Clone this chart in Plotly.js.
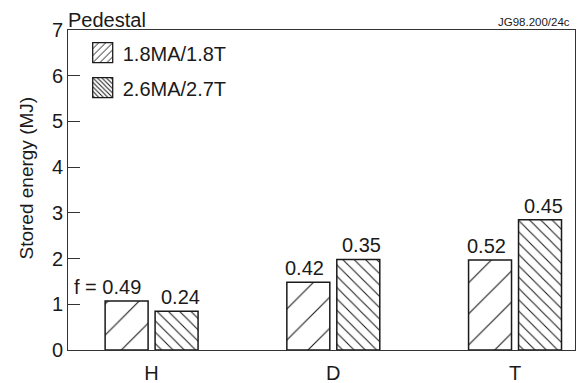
<!DOCTYPE html>
<html>
<head>
<meta charset="utf-8">
<script src="https://cdn.plot.ly/plotly-3.0.1.min.js"></script>
<style>html,body{margin:0;padding:0;background:#fff;}#chart{width:579px;height:383px;}</style>
</head>
<body>
<div id="chart"></div>
<script>
// Data
var categories = ['H', 'D', 'T'];
var seriesNames = ['1.8MA/1.8T', '2.6MA/2.7T'];
var energyLow = [1.07, 1.48, 1.97];   // 1.8MA/1.8T
var energyHigh = [0.85, 1.98, 2.85];  // 2.6MA/2.7T
var labelsLow = ['f = 0.49', '0.42', '0.52'];
var labelsHigh = ['0.24', '0.35', '0.45'];
var yTicks = [0, 1, 2, 3, 4, 5, 6, 7];
var yTitle = 'Stored energy (MJ)';

var FONT = 'Liberation Sans, Arial, Helvetica, sans-serif';
var TXT = '#1a1a1a';
var xIdx = categories.map(function (c, i) { return i; });

function barTrace(name, vals, shape, size, solidity, group) {
  return {
    type: 'bar',
    name: name,
    x: xIdx,
    y: vals,
    legendgroup: group,
    marker: {
      color: '#ffffff',
      line: { color: '#1a1a1a', width: 1.5 },
      pattern: { shape: shape, fgcolor: '#1a1a1a', bgcolor: '#ffffff', size: size, solidity: solidity }
    },
    hoverinfo: 'skip'
  };
}

var traces = [
  barTrace(seriesNames[0], energyLow, '/', 22, 0.05, 'a'),
  barTrace(seriesNames[1], energyHigh, '\\', 8, 0.13, 'b')
];

var annotations = [];
xIdx.forEach(function (i) {
  annotations.push({
    x: i, y: energyLow[i], xref: 'x', yref: 'y',
    text: labelsLow[i], showarrow: false,
    xanchor: 'center', yanchor: 'bottom',
    xshift: i === 0 ? -44 : -28.5, yshift: 1,
    font: { family: FONT, size: 20, color: TXT }
  });
  annotations.push({
    x: i, y: energyHigh[i], xref: 'x', yref: 'y',
    text: labelsHigh[i], showarrow: false,
    xanchor: 'center', yanchor: 'bottom',
    xshift: 28.5, yshift: 1,
    font: { family: FONT, size: 20, color: TXT }
  });
});
annotations.push({
  x: 0, y: 1, xref: 'paper', yref: 'paper', text: 'Pedestal', showarrow: false,
  xanchor: 'left', yanchor: 'bottom', xshift: -2, yshift: -3,
  font: { family: FONT, size: 20, color: TXT }
});
annotations.push({
  x: 1, y: 1, xref: 'paper', yref: 'paper', text: 'JG98.200/24c', showarrow: false,
  xanchor: 'right', yanchor: 'bottom', xshift: -3, yshift: 0,
  font: { family: FONT, size: 11.5, color: TXT }
});
// y-axis title
annotations.push({
  x: 0, y: 0.536, xref: 'paper', yref: 'paper', text: yTitle, showarrow: false,
  textangle: -90, xanchor: 'center', yanchor: 'middle', xshift: -42,
  font: { family: FONT, size: 19, color: TXT }
});

var layout = {
  width: 579, height: 383,
  margin: { l: 68, r: 4, t: 30, b: 33 },
  paper_bgcolor: '#ffffff', plot_bgcolor: '#ffffff',
  font: { family: FONT, color: TXT },
  barmode: 'group', bargap: 0.45, bargroupgap: 0.14,
  showlegend: true,
  legend: {
    x: 0.029, y: 0.99, xanchor: 'left', yanchor: 'top',
    bgcolor: 'rgba(0,0,0,0)', borderwidth: 0,
    traceorder: 'grouped', tracegroupgap: 6,
    font: { family: FONT, size: 20, color: TXT }
  },
  xaxis: {
    range: [-0.46, 2.33],
    tickvals: xIdx, ticktext: categories,
    ticks: '', showgrid: false, zeroline: false,
    showline: true, linecolor: '#333', linewidth: 1, mirror: true,
    tickfont: { family: FONT, size: 20, color: TXT },
    ticklabelstandoff: 5,
    fixedrange: true
  },
  yaxis: {
    range: [0, 7], tickvals: yTicks,
    ticks: 'inside', ticklen: 12, tickcolor: '#333', tickwidth: 1,
    showgrid: false, zeroline: false,
    showline: true, linecolor: '#333', linewidth: 1, mirror: true,
    tickfont: { family: FONT, size: 20, color: TXT },
    automargin: false,
    fixedrange: true
  },
  annotations: annotations
};

Plotly.newPlot('chart', traces, layout, { staticPlot: true, displayModeBar: false }).then(function (gd) {
  // Enlarge legend swatches and give them the denser hatching seen in the reference key
  var NS = 'http://www.w3.org/2000/svg';
  var defs = gd.querySelector('svg.main-svg defs');
  function mkPattern(id, s, forward) {
    var p = document.createElementNS(NS, 'pattern');
    p.setAttribute('id', id);
    p.setAttribute('patternUnits', 'userSpaceOnUse');
    p.setAttribute('width', s);
    p.setAttribute('height', s);
    var r = document.createElementNS(NS, 'rect');
    r.setAttribute('width', s); r.setAttribute('height', s); r.setAttribute('fill', '#fff');
    p.appendChild(r);
    var path = document.createElementNS(NS, 'path');
    var d = forward
      ? 'M0,' + s + 'L' + s + ',0M-1,1L1,-1M' + (s - 1) + ',' + (s + 1) + 'L' + (s + 1) + ',' + (s - 1)
      : 'M0,0L' + s + ',' + s + 'M-1,' + (s - 1) + 'L1,' + (s + 1) + 'M' + (s - 1) + ',-1L' + (s + 1) + ',1';
    path.setAttribute('d', d);
    path.setAttribute('stroke', '#1a1a1a');
    path.setAttribute('stroke-width', '1');
    p.appendChild(path);
    defs.appendChild(p);
  }
  mkPattern('lgpat0', 7, true);
  mkPattern('lgpat1', 4.5, false);
  var items = gd.querySelectorAll('.legend .traces');
  items.forEach(function (it, k) {
    var path = it.querySelector('.legendpoints path');
    if (!path) return;
    path.setAttribute('d', 'M10,10H-10V-10H10Z');
    path.style.fill = 'url(#lgpat' + k + ')';
    path.style.stroke = '#1a1a1a';
    path.style.strokeWidth = '1.3px';
  });
});
</script>
</body>
</html>
